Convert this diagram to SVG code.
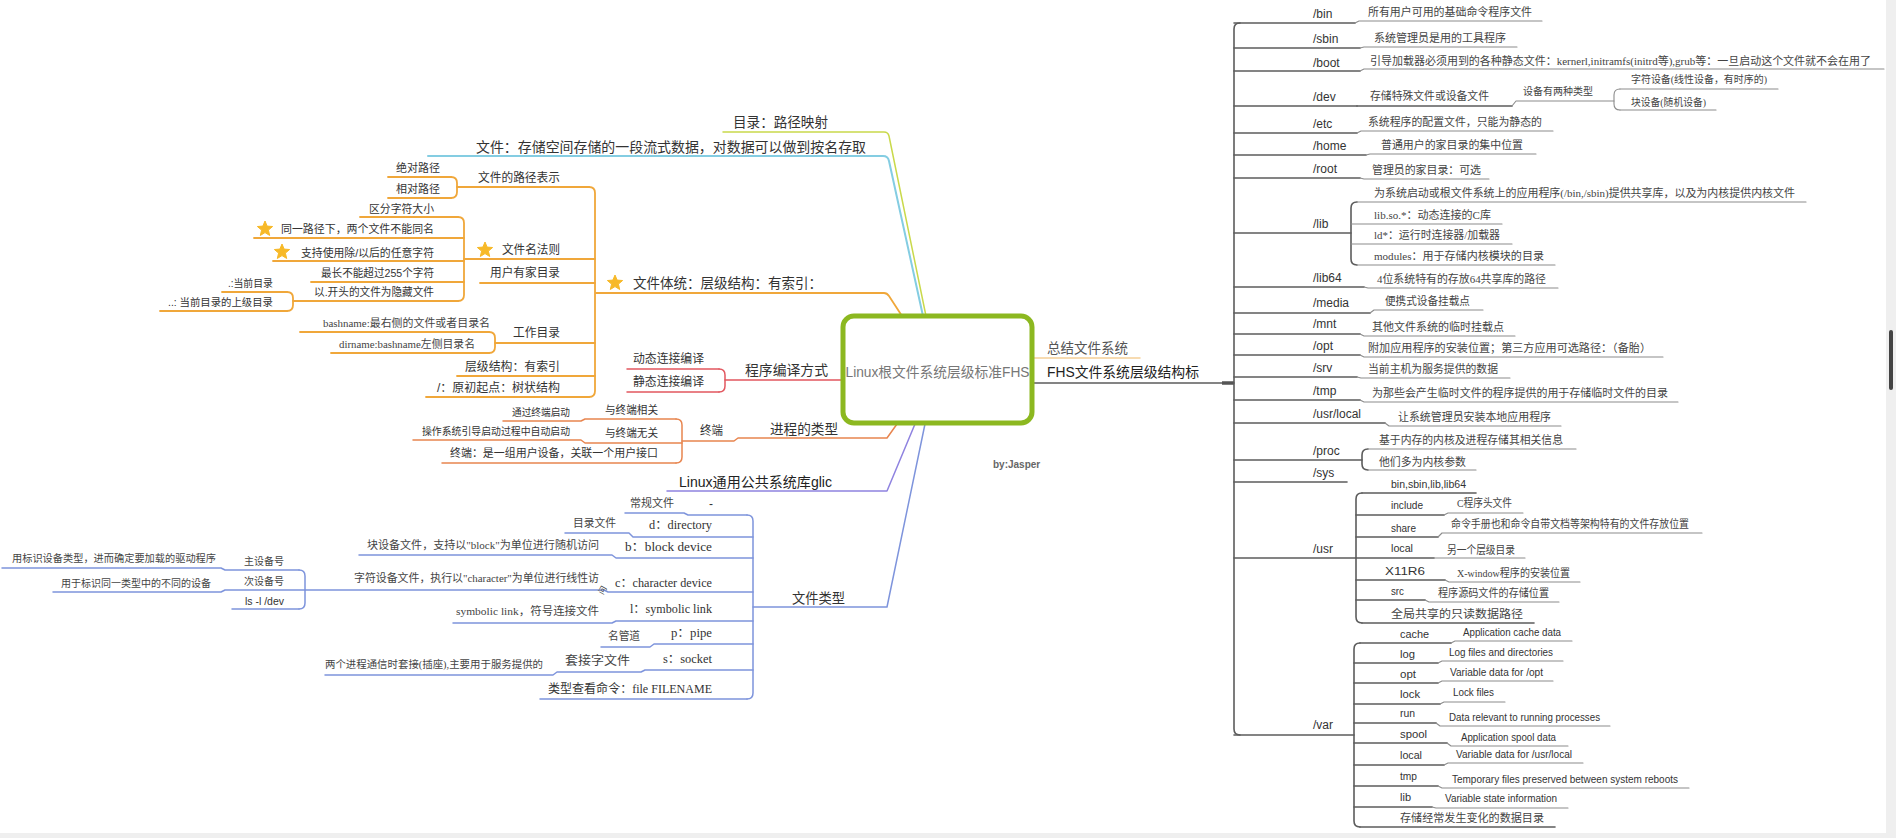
<svg xmlns="http://www.w3.org/2000/svg" width="1896" height="838" viewBox="0 0 1896 838">
<style>
.s{font-family:"Liberation Sans","Noto Sans CJK SC",sans-serif;fill:#333}
.r{font-family:"Liberation Serif","Noto Sans CJK SC",serif;fill:#444}
.e{text-anchor:end}
.f14{font-size:14px}.f12{font-size:12px}.f11{font-size:11px}.f10{font-size:10px}
.ln{fill:none;stroke-linecap:round;stroke-linejoin:round}
.g1{stroke:#5c5c5c;stroke-width:1.6}
.g2{stroke:#8c8c8c;stroke-width:1.1}
.or{stroke:#f0a73a;stroke-width:1.8}
.rd{stroke:#e2575f;stroke-width:1.5}
.pr{stroke:#e8854f;stroke-width:1.5}
.pu{stroke:#8f83e0;stroke-width:1.5}
.bl{stroke:#7e94dc;stroke-width:1.5}
.star{fill:#f7b928;stroke:#f7b928;stroke-width:1;stroke-linejoin:round}
</style>
<defs>
<polygon id="star" points="0,-8 2.12,-2.91 7.61,-2.47 3.42,1.11 4.70,6.47 0,3.6 -4.70,6.47 -3.42,1.11 -7.61,-2.47 -2.12,-2.91"/>
</defs>
<rect width="1896" height="838" fill="#fff"/>
<rect x="1886" y="0" width="10" height="838" fill="#efefef"/>
<rect x="0" y="833" width="1896" height="5" fill="#efefef"/>
<rect x="1889" y="330" width="4" height="60" rx="2" fill="#444"/>

<g id="connectors">
<!-- right -->
<path class="ln" stroke="#f5cf98" stroke-width="1.5" d="M1032,358 H1140"/>
<path class="ln g1" d="M1032,383 H1234"/>
<path d="M1222,383 H1234" stroke="#555" stroke-width="3.5"/>
<path class="ln g1" d="M1240,23 Q1234,23 1234,29 V729 Q1234,735 1240,735"/>
<g class="ln g1">
<path d="M1234,23 H1355"/><path d="M1234,48 H1360"/><path d="M1234,71 H1360"/><path d="M1234,106 H1357"/>
<path d="M1234,133 H1357"/><path d="M1234,155 H1366"/><path d="M1234,178 H1360"/><path d="M1234,233 H1351"/>
<path d="M1234,287 H1364"/><path d="M1234,313 H1370"/><path d="M1234,334 H1360"/><path d="M1234,355 H1360"/>
<path d="M1234,377 H1357"/><path d="M1234,400 H1360"/><path d="M1234,423 H1385"/><path d="M1234,460 H1362"/>
<path d="M1234,482 H1347"/><path d="M1234,558 H1356"/><path d="M1234,735 H1354"/>
<path d="M1357,202 Q1351,202 1351,208 V259 Q1351,265 1357,265"/>
<path d="M1368,449 Q1362,449 1362,455 V464 Q1362,470 1368,470"/>
<path d="M1362,493 Q1356,493 1356,499 V617 Q1356,623 1362,623"/>
<path d="M1360,643 Q1354,643 1354,649 V821 Q1354,827 1360,827"/>
<path d="M1357,106 H1512"/>
<path d="M1362,493 H1476"/><path d="M1356,515 H1444"/><path d="M1356,537 H1438"/><path d="M1356,558 H1434"/>
<path d="M1356,580 H1445"/><path d="M1356,600 H1425"/><path d="M1362,623 H1534"/>
<path d="M1360,643 H1451"/><path d="M1354,663 H1438"/><path d="M1354,683 H1438"/><path d="M1354,704 H1440"/>
<path d="M1354,723 H1436"/><path d="M1354,743 H1447"/><path d="M1354,765 H1444"/><path d="M1354,786 H1438"/>
<path d="M1354,807 H1432"/><path d="M1360,827 H1555"/>
</g>
<g class="ln g2">
<path d="M1355,23 L1359,21 H1542"/><path d="M1360,48 L1364,47 H1517"/><path d="M1360,71 L1364,69 H1884"/>
<path d="M1512,106 L1516,101 H1614"/>
<path d="M1620,89 Q1614,89 1614,95 V104 Q1614,110 1620,110"/><path d="M1620,89 H1778"/><path d="M1620,110 H1716"/>
<path d="M1357,133 L1361,131 H1553"/><path d="M1366,155 L1370,154 H1536"/><path d="M1360,178 L1364,179 H1489"/>
<path d="M1357,202 H1806"/><path d="M1351,224 H1502"/><path d="M1351,244 H1512"/><path d="M1357,265 H1555"/>
<path d="M1364,287 L1368,288 H1558"/><path d="M1370,313 L1374,310 H1483"/><path d="M1360,334 L1364,336 H1515"/>
<path d="M1360,355 L1364,357 H1663"/><path d="M1357,377 L1361,378 H1510"/><path d="M1360,400 L1364,402 H1678"/>
<path d="M1385,423 L1389,426 H1561"/>
<path d="M1368,449 H1576"/><path d="M1368,470 H1476"/>
<path d="M1444,515 L1448,513 H1523"/><path d="M1438,537 L1442,533 H1702"/><path d="M1434,558 H1525"/>
<path d="M1445,580 L1449,582 H1580"/><path d="M1425,600 L1429,602 H1559"/>
<path d="M1451,643 L1455,641 H1572"/><path d="M1438,663 L1442,661 H1563"/><path d="M1438,683 L1442,681 H1553"/>
<path d="M1440,704 L1444,702 H1505"/><path d="M1436,723 L1440,726 H1610"/><path d="M1447,743 L1451,746 H1568"/>
<path d="M1444,765 L1448,763 H1583"/><path d="M1438,786 L1442,788 H1689"/><path d="M1432,807 L1436,808 H1568"/>
</g>
<!-- left top -->
<path class="ln" stroke="#c9d94b" stroke-width="1.5" d="M723,132 H884 Q888,132 889,136 L926,316"/>
<path class="ln" stroke="#84cde2" stroke-width="2" d="M428,156 H883 Q888,156 889,161 L923,316"/>
<g class="ln or">
<path d="M596,293 H884 Q887,293 889,296 L902,316"/>
<path d="M589,187 Q595,187 595,193 V391 Q595,397 589,397"/>
<path d="M589,187 H457"/><path d="M451,177 Q457,177 457,183 V192 Q457,198 451,198"/>
<path d="M451,177 H388"/><path d="M451,198 H388"/>
<path d="M595,259 H464"/><path d="M458,217 Q464,217 464,223 V295 Q464,301 458,301"/>
<path d="M458,217 H360"/><path d="M464,238 H254"/><path d="M464,261 H273"/><path d="M464,282 H311"/><path d="M458,301 H293"/>
<path d="M287,292 Q293,292 293,298 V305 Q293,311 287,311"/><path d="M287,292 H222"/><path d="M287,311 H160"/>
<path d="M595,283 H480"/>
<path d="M595,343 H495"/><path d="M489,332 Q495,332 495,338 V347 Q495,353 489,353"/>
<path d="M489,332 H300"/><path d="M489,353 H331"/>
<path d="M595,376 H457"/><path d="M589,397 H426"/>
</g>
<g class="ln rd">
<path d="M843,380 H725"/><path d="M719,369 Q725,369 725,375 V386 Q725,392 719,392"/>
<path d="M719,369 H627"/><path d="M719,392 H627"/>
</g>
<g class="ln pr">
<path d="M897,424 L887,438 H738 L734,441 H682"/>
<path d="M676,419 Q682,419 682,425 V457 Q682,463 676,463"/>
<path d="M676,419 H585 L581,421 H503"/><path d="M682,443 H585 L581,440 H413"/><path d="M676,463 H442"/>
</g>
<path class="ln pu" d="M915,424 L887,491 H667"/>
<g class="ln bl">
<path d="M925,424 L887,607 H753"/>
<path d="M747,515 Q753,515 753,521 V693 Q753,699 747,699"/>
<path d="M747,515 H688 L684,513 H625"/>
<path d="M753,537 H633 L629,533 H565"/>
<path d="M753,558 H616 L612,555 H359"/>
<path d="M753,592 H608 L604,590 H305"/>
<path d="M299,570 Q305,570 305,576 V603 Q305,609 299,609"/>
<path d="M299,570 H225 L221,568 H2"/><path d="M305,590 H225 L221,592 H53"/><path d="M299,609 H232"/>
<path d="M753,621 H616 L612,623 H453"/>
<path d="M753,644 H654 L650,647 H601"/>
<path d="M753,670 H645 L641,672 H557 L553,675 H325"/>
<path d="M747,699 H540"/>
</g>
</g>

<g id="center">
<rect x="843" y="316" width="189" height="107" rx="11" fill="#fff" stroke="#8cb820" stroke-width="5"/>
<text class="s" x="937.5" y="377" text-anchor="middle" font-size="14" fill="#777" style="fill:#777" textLength="184" lengthAdjust="spacingAndGlyphs">Linux根文件系统层级标准FHS</text>
</g>
<g id="byline"><text class="s" x="993" y="468" font-size="10" font-weight="bold" style="fill:#666">by:Jasper</text></g>

<g id="n-summary"><text class="s f14" x="1047" y="353" style="fill:#555" textLength="81" lengthAdjust="spacingAndGlyphs">总结文件系统</text></g>
<g id="n-fhs"><text class="s f14" x="1047" y="377" style="fill:#222" textLength="152" lengthAdjust="spacingAndGlyphs">FHS文件系统层级结构标</text></g>

<g id="right-labels" class="s f12">
<g id="n-bin"><text x="1313" y="18">/bin</text></g>
<g id="n-sbin"><text x="1313" y="43">/sbin</text></g>
<g id="n-boot"><text x="1313" y="67">/boot</text></g>
<g id="n-dev"><text x="1313" y="101">/dev</text></g>
<g id="n-etc"><text x="1313" y="128">/etc</text></g>
<g id="n-home"><text x="1313" y="150">/home</text></g>
<g id="n-root"><text x="1313" y="173">/root</text></g>
<g id="n-lib"><text x="1313" y="228">/lib</text></g>
<g id="n-lib64"><text x="1313" y="282">/lib64</text></g>
<g id="n-media"><text x="1313" y="307">/media</text></g>
<g id="n-mnt"><text x="1313" y="328">/mnt</text></g>
<g id="n-opt"><text x="1313" y="350">/opt</text></g>
<g id="n-srv"><text x="1313" y="372">/srv</text></g>
<g id="n-tmp"><text x="1313" y="395">/tmp</text></g>
<g id="n-usrlocal"><text x="1313" y="418">/usr/local</text></g>
<g id="n-proc"><text x="1313" y="455">/proc</text></g>
<g id="n-sys"><text x="1313" y="477">/sys</text></g>
<g id="n-usr"><text x="1313" y="553">/usr</text></g>
<g id="n-var"><text x="1313" y="729">/var</text></g>
</g>

<g id="right-desc" class="r f11">
<g id="d-bin"><text x="1368" y="16" textLength="164" lengthAdjust="spacingAndGlyphs">所有用户可用的基础命令程序文件</text></g>
<g id="d-sbin"><text x="1374" y="42" textLength="132" lengthAdjust="spacingAndGlyphs">系统管理员是用的工具程序</text></g>
<g id="d-boot"><text x="1370" y="65" textLength="501" lengthAdjust="spacingAndGlyphs">引导加载器必须用到的各种静态文件：kernerl,initramfs(initrd等),grub等：一旦启动这个文件就不会在用了</text></g>
<g id="d-dev"><text x="1370" y="100" textLength="119" lengthAdjust="spacingAndGlyphs">存储特殊文件或设备文件</text></g>
<g id="d-dev2"><text x="1523" y="95" font-size="10" textLength="70" lengthAdjust="spacingAndGlyphs">设备有两种类型</text></g>
<g id="d-dev3"><text x="1631" y="83" font-size="10.5" textLength="136" lengthAdjust="spacingAndGlyphs">字符设备(线性设备，有时序的)</text></g>
<g id="d-dev4"><text x="1631" y="106" font-size="10.5" textLength="75" lengthAdjust="spacingAndGlyphs">块设备(随机设备)</text></g>
<g id="d-etc"><text x="1368" y="126" textLength="174" lengthAdjust="spacingAndGlyphs">系统程序的配置文件，只能为静态的</text></g>
<g id="d-home"><text x="1381" y="149" textLength="142" lengthAdjust="spacingAndGlyphs">普通用户的家目录的集中位置</text></g>
<g id="d-root"><text x="1372" y="174" textLength="109" lengthAdjust="spacingAndGlyphs">管理员的家目录：可选</text></g>
<g id="d-lib1"><text x="1374" y="197" textLength="421" lengthAdjust="spacingAndGlyphs">为系统启动或根文件系统上的应用程序(/bin,/sbin)提供共享库，以及为内核提供内核文件</text></g>
<g id="d-lib2"><text x="1374" y="219" textLength="117" lengthAdjust="spacingAndGlyphs">lib.so.*：动态连接的C库</text></g>
<g id="d-lib3"><text x="1374" y="239" textLength="126" lengthAdjust="spacingAndGlyphs">ld*：运行时连接器/加载器</text></g>
<g id="d-lib4"><text x="1374" y="260" textLength="170" lengthAdjust="spacingAndGlyphs">modules：用于存储内核模块的目录</text></g>
<g id="d-lib64"><text x="1377" y="283" textLength="169" lengthAdjust="spacingAndGlyphs">4位系统特有的存放64共享库的路径</text></g>
<g id="d-media"><text x="1385" y="305" textLength="85" lengthAdjust="spacingAndGlyphs">便携式设备挂载点</text></g>
<g id="d-mnt"><text x="1372" y="331" textLength="132" lengthAdjust="spacingAndGlyphs">其他文件系统的临时挂载点</text></g>
<g id="d-opt"><text x="1368" y="352" textLength="283" lengthAdjust="spacingAndGlyphs">附加应用程序的安装位置；第三方应用可选路径：（备胎）</text></g>
<g id="d-srv"><text x="1368" y="373" textLength="130" lengthAdjust="spacingAndGlyphs">当前主机为服务提供的数据</text></g>
<g id="d-tmp"><text x="1372" y="397" textLength="296" lengthAdjust="spacingAndGlyphs">为那些会产生临时文件的程序提供的用于存储临时文件的目录</text></g>
<g id="d-usrlocal"><text x="1398" y="421" textLength="153" lengthAdjust="spacingAndGlyphs">让系统管理员安装本地应用程序</text></g>
<g id="d-proc1"><text x="1379" y="444" textLength="184" lengthAdjust="spacingAndGlyphs">基于内存的内核及进程存储其相关信息</text></g>
<g id="d-proc2"><text x="1379" y="466" textLength="87" lengthAdjust="spacingAndGlyphs">他们多为内核参数</text></g>
<g id="d-usr-inc"><text x="1457" y="507" textLength="55" lengthAdjust="spacingAndGlyphs">C程序头文件</text></g>
<g id="d-usr-share"><text x="1451" y="528" textLength="238" lengthAdjust="spacingAndGlyphs">命令手册也和命令自带文档等架构特有的文件存放位置</text></g>
<g id="d-usr-local"><text x="1447" y="554" textLength="68" lengthAdjust="spacingAndGlyphs">另一个层级目录</text></g>
<g id="d-usr-x11"><text x="1457" y="577" textLength="113" lengthAdjust="spacingAndGlyphs">X-window程序的安装位置</text></g>
<g id="d-usr-src"><text x="1438" y="597" textLength="111" lengthAdjust="spacingAndGlyphs">程序源码文件的存储位置</text></g>
<g id="d-usr-all"><text x="1391" y="618" textLength="132" lengthAdjust="spacingAndGlyphs">全局共享的只读数据路径</text></g>
<g id="d-var-all"><text x="1400" y="822" textLength="144" lengthAdjust="spacingAndGlyphs">存储经常发生变化的数据目录</text></g>
</g>

<g id="usr-var-labels" class="s f11">
<g id="u-bin"><text x="1391" y="488" textLength="75" lengthAdjust="spacingAndGlyphs">bin,sbin,lib,lib64</text></g>
<g id="u-include"><text x="1391" y="509" textLength="32" lengthAdjust="spacingAndGlyphs">include</text></g>
<g id="u-share"><text x="1391" y="532" textLength="25" lengthAdjust="spacingAndGlyphs">share</text></g>
<g id="u-local"><text x="1391" y="552" textLength="22" lengthAdjust="spacingAndGlyphs">local</text></g>
<g id="u-x11"><text x="1385" y="575" textLength="40" lengthAdjust="spacingAndGlyphs">X11R6</text></g>
<g id="u-src"><text x="1391" y="595" textLength="13" lengthAdjust="spacingAndGlyphs">src</text></g>
<g id="v-cache"><text x="1400" y="638" textLength="29" lengthAdjust="spacingAndGlyphs">cache</text></g>
<g id="v-log"><text x="1400" y="658" textLength="15" lengthAdjust="spacingAndGlyphs">log</text></g>
<g id="v-opt"><text x="1400" y="678" textLength="16" lengthAdjust="spacingAndGlyphs">opt</text></g>
<g id="v-lock"><text x="1400" y="698" textLength="20" lengthAdjust="spacingAndGlyphs">lock</text></g>
<g id="v-run"><text x="1400" y="717" textLength="15" lengthAdjust="spacingAndGlyphs">run</text></g>
<g id="v-spool"><text x="1400" y="738" textLength="27" lengthAdjust="spacingAndGlyphs">spool</text></g>
<g id="v-local"><text x="1400" y="759" textLength="22" lengthAdjust="spacingAndGlyphs">local</text></g>
<g id="v-tmp"><text x="1400" y="780" textLength="17" lengthAdjust="spacingAndGlyphs">tmp</text></g>
<g id="v-lib"><text x="1400" y="801" textLength="11" lengthAdjust="spacingAndGlyphs">lib</text></g>
</g>
<g id="var-desc" class="s" font-size="10.5">
<g id="vd-cache"><text x="1463" y="636" textLength="98" lengthAdjust="spacingAndGlyphs">Application cache data</text></g>
<g id="vd-log"><text x="1449" y="656" textLength="104" lengthAdjust="spacingAndGlyphs">Log files and directories</text></g>
<g id="vd-opt"><text x="1450" y="676" textLength="93" lengthAdjust="spacingAndGlyphs">Variable data for /opt</text></g>
<g id="vd-lock"><text x="1453" y="696" textLength="41" lengthAdjust="spacingAndGlyphs">Lock files</text></g>
<g id="vd-run"><text x="1449" y="721" textLength="151" lengthAdjust="spacingAndGlyphs">Data relevant to running processes</text></g>
<g id="vd-spool"><text x="1461" y="741" textLength="95" lengthAdjust="spacingAndGlyphs">Application spool data</text></g>
<g id="vd-local"><text x="1456" y="758" textLength="116" lengthAdjust="spacingAndGlyphs">Variable data for /usr/local</text></g>
<g id="vd-tmp"><text x="1452" y="783" textLength="226" lengthAdjust="spacingAndGlyphs">Temporary files preserved between system reboots</text></g>
<g id="vd-lib"><text x="1445" y="802" textLength="112" lengthAdjust="spacingAndGlyphs">Variable state information</text></g>
</g>

<!-- left main branches -->
<g id="n-mulu"><text class="s f14" x="733" y="127" textLength="95" lengthAdjust="spacingAndGlyphs">目录：路径映射</text></g>
<g id="n-wenjian"><text class="s f14" x="476" y="152" textLength="390" lengthAdjust="spacingAndGlyphs">文件：存储空间存储的一段流式数据，对数据可以做到按名存取</text></g>
<g id="n-tixi"><use href="#star" class="star" x="615" y="283"/><text class="s f14" x="633" y="288" textLength="189" lengthAdjust="spacingAndGlyphs">文件体统：层级结构：有索引：</text></g>
<g id="n-bianyi"><text class="s f14" x="745" y="375" textLength="83" lengthAdjust="spacingAndGlyphs">程序编译方式</text></g>
<g id="n-jincheng"><text class="s f14" x="770" y="434" textLength="68" lengthAdjust="spacingAndGlyphs">进程的类型</text></g>
<g id="n-glic"><text class="s f14" x="679" y="487" style="fill:#222" textLength="153" lengthAdjust="spacingAndGlyphs">Linux通用公共系统库glic</text></g>
<g id="n-leixing"><text class="s f14" x="792" y="603" textLength="53" lengthAdjust="spacingAndGlyphs">文件类型</text></g>

<!-- orange tree -->
<g class="s">
<g id="o-lujing"><text class="f12 e" x="560" y="182" textLength="82" lengthAdjust="spacingAndGlyphs">文件的路径表示</text></g>
<g id="o-jd"><text class="f11 e" x="440" y="172" textLength="44" lengthAdjust="spacingAndGlyphs">绝对路径</text></g>
<g id="o-xd"><text class="f11 e" x="440" y="193" textLength="44" lengthAdjust="spacingAndGlyphs">相对路径</text></g>
<g id="o-fazhe"><use href="#star" class="star" x="485" y="250"/><text class="f12" x="502" y="254" textLength="58" lengthAdjust="spacingAndGlyphs">文件名法则</text></g>
<g id="o-f1"><text class="f11 e" x="434" y="213" textLength="65" lengthAdjust="spacingAndGlyphs">区分字符大小</text></g>
<g id="o-f2"><use href="#star" class="star" x="265" y="229"/><text class="f11 e" x="434" y="233" textLength="153" lengthAdjust="spacingAndGlyphs">同一路径下，两个文件不能同名</text></g>
<g id="o-f3"><use href="#star" class="star" x="282" y="252"/><text class="f11 e" x="434" y="257" textLength="133" lengthAdjust="spacingAndGlyphs">支持使用除/以后的任意字符</text></g>
<g id="o-f4"><text class="f11 e" x="434" y="277" textLength="113" lengthAdjust="spacingAndGlyphs">最长不能超过255个字符</text></g>
<g id="o-f5"><text class="f11 e" x="434" y="296" textLength="120" lengthAdjust="spacingAndGlyphs">以.开头的文件为隐藏文件</text></g>
<g id="o-f5a"><text class="f10 e" x="273" y="287" textLength="45" lengthAdjust="spacingAndGlyphs">.:当前目录</text></g>
<g id="o-f5b"><text class="f10 e" x="273" y="306" textLength="105" lengthAdjust="spacingAndGlyphs">..: 当前目录的上级目录</text></g>
<g id="o-home"><text class="f12 e" x="560" y="277" textLength="70" lengthAdjust="spacingAndGlyphs">用户有家目录</text></g>
<g id="o-work"><text class="f12 e" x="560" y="337" textLength="47" lengthAdjust="spacingAndGlyphs">工作目录</text></g>
<g id="o-base"><text class="r f11 e" x="490" y="327" textLength="167" lengthAdjust="spacingAndGlyphs">bashname:最右侧的文件或者目录名</text></g>
<g id="o-dir"><text class="r f11 e" x="475" y="348" textLength="136" lengthAdjust="spacingAndGlyphs">dirname:bashname左侧目录名</text></g>
<g id="o-cj"><text class="f12 e" x="560" y="371" textLength="95" lengthAdjust="spacingAndGlyphs">层级结构：有索引</text></g>
<g id="o-root"><text class="f12 e" x="560" y="392" textLength="123" lengthAdjust="spacingAndGlyphs">/：原初起点：树状结构</text></g>
</g>

<!-- red / orange-red -->
<g class="s">
<g id="r-dt"><text class="f12" x="633" y="363" textLength="71" lengthAdjust="spacingAndGlyphs">动态连接编译</text></g>
<g id="r-jt"><text class="f12" x="633" y="386" textLength="71" lengthAdjust="spacingAndGlyphs">静态连接编译</text></g>
<g id="p-zd"><text class="f12" x="700" y="435" textLength="23" lengthAdjust="spacingAndGlyphs">终端</text></g>
<g id="p-xg"><text class="f11" x="605" y="414" textLength="53" lengthAdjust="spacingAndGlyphs">与终端相关</text></g>
<g id="p-xg1"><text class="f10" x="512" y="416" textLength="58" lengthAdjust="spacingAndGlyphs">通过终端启动</text></g>
<g id="p-wg"><text class="f11" x="605" y="437" textLength="53" lengthAdjust="spacingAndGlyphs">与终端无关</text></g>
<g id="p-wg1"><text class="f10" x="422" y="435" textLength="148" lengthAdjust="spacingAndGlyphs">操作系统引导启动过程中自动启动</text></g>
<g id="p-def"><text class="f11" x="450" y="457" textLength="208" lengthAdjust="spacingAndGlyphs">终端：是一组用户设备，关联一个用户接口</text></g>
</g>

<!-- blue tree -->
<g>
<g id="b-reg"><text class="r f11 e" x="674" y="507" textLength="44" lengthAdjust="spacingAndGlyphs">常规文件</text><text class="s f12" x="709" y="508">-</text></g>
<g id="b-dir"><text class="r f11 e" x="616" y="527" textLength="43" lengthAdjust="spacingAndGlyphs">目录文件</text><text class="r f12 e" x="712" y="529" style="fill:#333" textLength="63" lengthAdjust="spacingAndGlyphs">d：directory</text></g>
<g id="b-blk"><text class="r f11 e" x="599" y="549" textLength="232" lengthAdjust="spacingAndGlyphs">块设备文件，支持以"block"为单位进行随机访问</text><text class="r f12 e" x="712" y="551" style="fill:#333" textLength="87" lengthAdjust="spacingAndGlyphs">b：block device</text></g>
<g id="b-chr"><text class="r f11 e" x="599" y="582" textLength="245" lengthAdjust="spacingAndGlyphs">字符设备文件，执行以"character"为单位进行线性访</text><text class="r" font-size="8" transform="translate(603,595) rotate(-60)">问</text><text class="r f12 e" x="712" y="587" style="fill:#333" textLength="97" lengthAdjust="spacingAndGlyphs">c：character device</text></g>
<g id="b-major"><text class="r e" font-size="10.5" x="284" y="565" textLength="40" lengthAdjust="spacingAndGlyphs">主设备号</text><text class="r f10 e" x="216" y="562" textLength="204" lengthAdjust="spacingAndGlyphs">用标识设备类型，进而确定要加载的驱动程序</text></g>
<g id="b-minor"><text class="r e" font-size="10.5" x="284" y="585" textLength="40" lengthAdjust="spacingAndGlyphs">次设备号</text><text class="r f10 e" x="211" y="587" textLength="150" lengthAdjust="spacingAndGlyphs">用于标识同一类型中的不同的设备</text></g>
<g id="b-ls"><text class="s f10 e" x="284" y="605" textLength="39" lengthAdjust="spacingAndGlyphs">ls -l /dev</text></g>
<g id="b-lnk"><text class="r f11 e" x="599" y="615" textLength="143" lengthAdjust="spacingAndGlyphs">symbolic link，符号连接文件</text><text class="r f12 e" x="712" y="613" style="fill:#333" textLength="82" lengthAdjust="spacingAndGlyphs">l：symbolic link</text></g>
<g id="b-pipe"><text class="r f11 e" x="640" y="640" textLength="32" lengthAdjust="spacingAndGlyphs">名管道</text><text class="r f12 e" x="712" y="637" style="fill:#333" textLength="41" lengthAdjust="spacingAndGlyphs">p：pipe</text></g>
<g id="b-sock"><text class="r f10 e" x="543" y="668" textLength="218" lengthAdjust="spacingAndGlyphs">两个进程通信时套接(插座),主要用于服务提供的</text><text class="r f12 e" x="630" y="665" textLength="65" lengthAdjust="spacingAndGlyphs">套接字文件</text><text class="r f12 e" x="712" y="663" style="fill:#333" textLength="49" lengthAdjust="spacingAndGlyphs">s：socket</text></g>
<g id="b-file"><text class="r f12 e" x="712" y="693" style="fill:#333" textLength="164" lengthAdjust="spacingAndGlyphs">类型查看命令：file FILENAME</text></g>
</g>
</svg>
